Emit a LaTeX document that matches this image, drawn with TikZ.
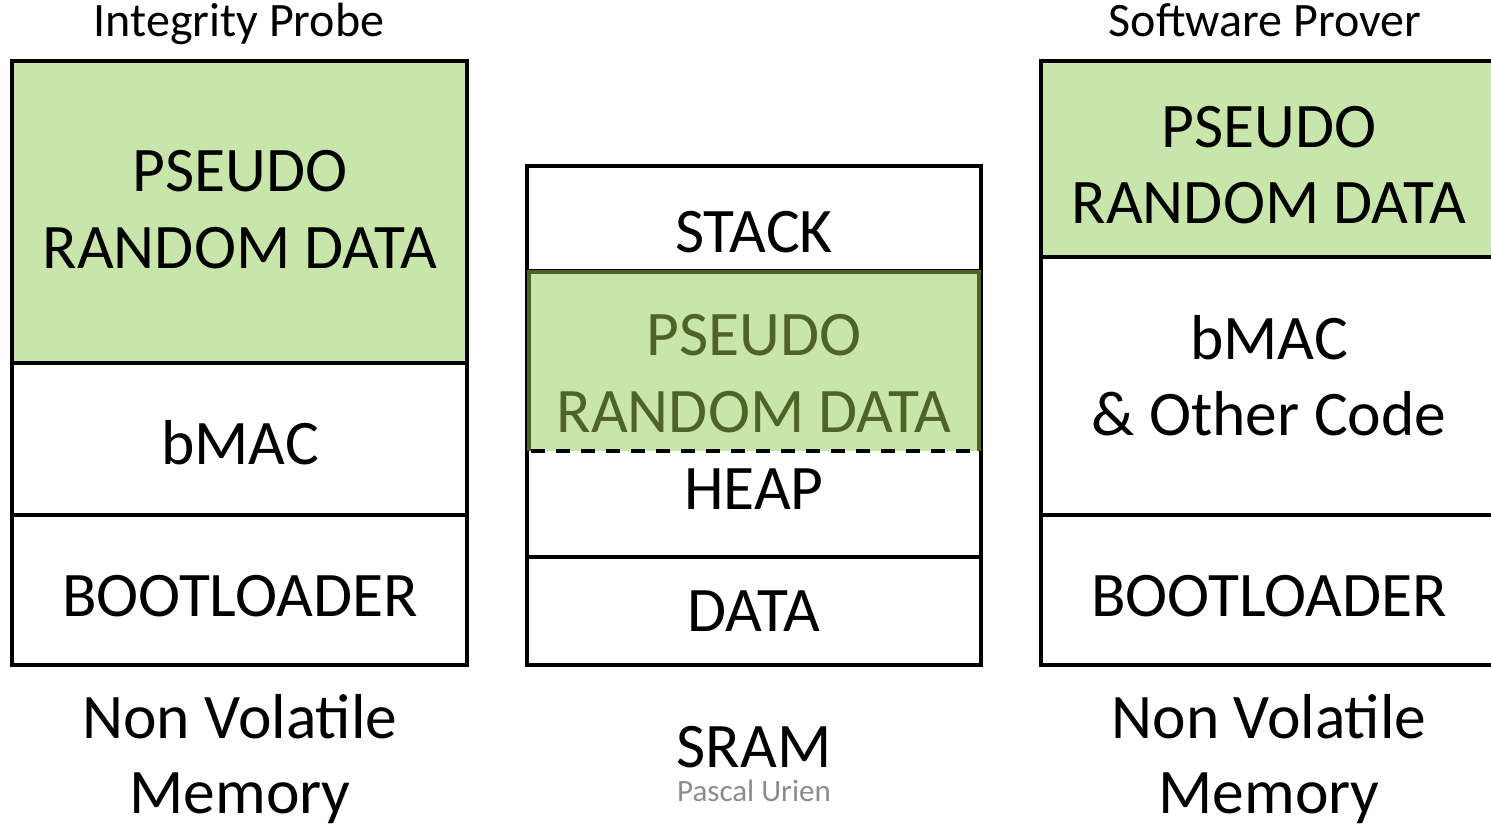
\documentclass[tikz,border=0pt]{standalone}
\usepackage{fontspec}
\setmainfont{Carlito}
\definecolor{prfill}{RGB}{200,230,170}
\definecolor{prdark}{RGB}{79,98,40}
\definecolor{authorgray}{RGB}{140,140,140}
\begin{document}
\begin{tikzpicture}[x=1pt,y=-1pt,line width=4pt,
  big/.style={font=\fontsize{63.5}{76}\selectfont,anchor=base,inner sep=0pt},
  head/.style={font=\fontsize{48}{56}\selectfont,anchor=base,inner sep=0pt},
  small/.style={font=\fontsize{31}{36}\selectfont,anchor=base,inner sep=0pt,text=authorgray},
  region/.style={fill=prfill},
  sep/.style={draw=black}]
\useasboundingbox (0,0) rectangle (1491,824);

% --- Integrity probe: non volatile memory
\fill[region] (12,61) rectangle (467,363);
\draw (12,61) rectangle (467,665);
\draw[sep] (12,363) -- (467,363);
\draw[sep] (12,515) -- (467,515);

% --- SRAM
\draw (527,166) rectangle (981,665);
\draw[sep] (527,271) -- (981,271);
\draw[sep] (527,557) -- (981,557);
\fill[region] (529,272) rectangle (979,451);
\draw[draw=prdark,line width=3.5pt] (529,451) -- (529,272) -- (979,272) -- (979,451);
\draw[dash pattern=on 14pt off 11pt] (531,451) -- (979,451);

% --- Software prover: non volatile memory
\fill[region] (1041,61) rectangle (1497,257);
\draw (1041,61) rectangle (1497,665);
\draw[sep] (1041,257) -- (1497,257);
\draw[sep] (1041,515) -- (1497,515);

% labels, left column
\node[head] (ltitle) at (239,37) {Integrity Probe};
\node[big] (lprd1) at (240,191.5) {PSEUDO};
\node[big] (lprd2) at (240,268) {RANDOM DATA};
\node[big] (lmac) at (240,464) {bMAC};
\node[big] (lboot) at (240,616) {BOOTLOADER};
\node[big] (lnv1) at (240,738) {Non Volatile};
\node[big] (lnv2) at (240,813) {Memory};

% labels, middle column
\node[big] (mstack) at (754,252) {STACK};
\node[big,text=prdark] (mprd1) at (754,355) {PSEUDO};
\node[big,text=prdark] (mprd2) at (754,432) {RANDOM DATA};
\node[big] (mheap) at (754,509) {HEAP};
\node[big] (mdata) at (754,631) {DATA};
\node[big] (msram) at (754,767) {SRAM};
\node[small] (author) at (754,801) {Pascal Urien};

% labels, right column
\node[head] (rtitle) at (1265,37) {Software Prover};
\node[big] (rprd1) at (1269,147) {PSEUDO};
\node[big] (rprd2) at (1269,223) {RANDOM DATA};
\node[big] (rmac) at (1269,359) {bMAC};
\node[big] (rcode) at (1269,435) {\& Other Code};
\node[big] (rboot) at (1269,616) {BOOTLOADER};
\node[big] (rnv1) at (1269,738) {Non Volatile};
\node[big] (rnv2) at (1269,813) {Memory};
\end{tikzpicture}
\end{document}
